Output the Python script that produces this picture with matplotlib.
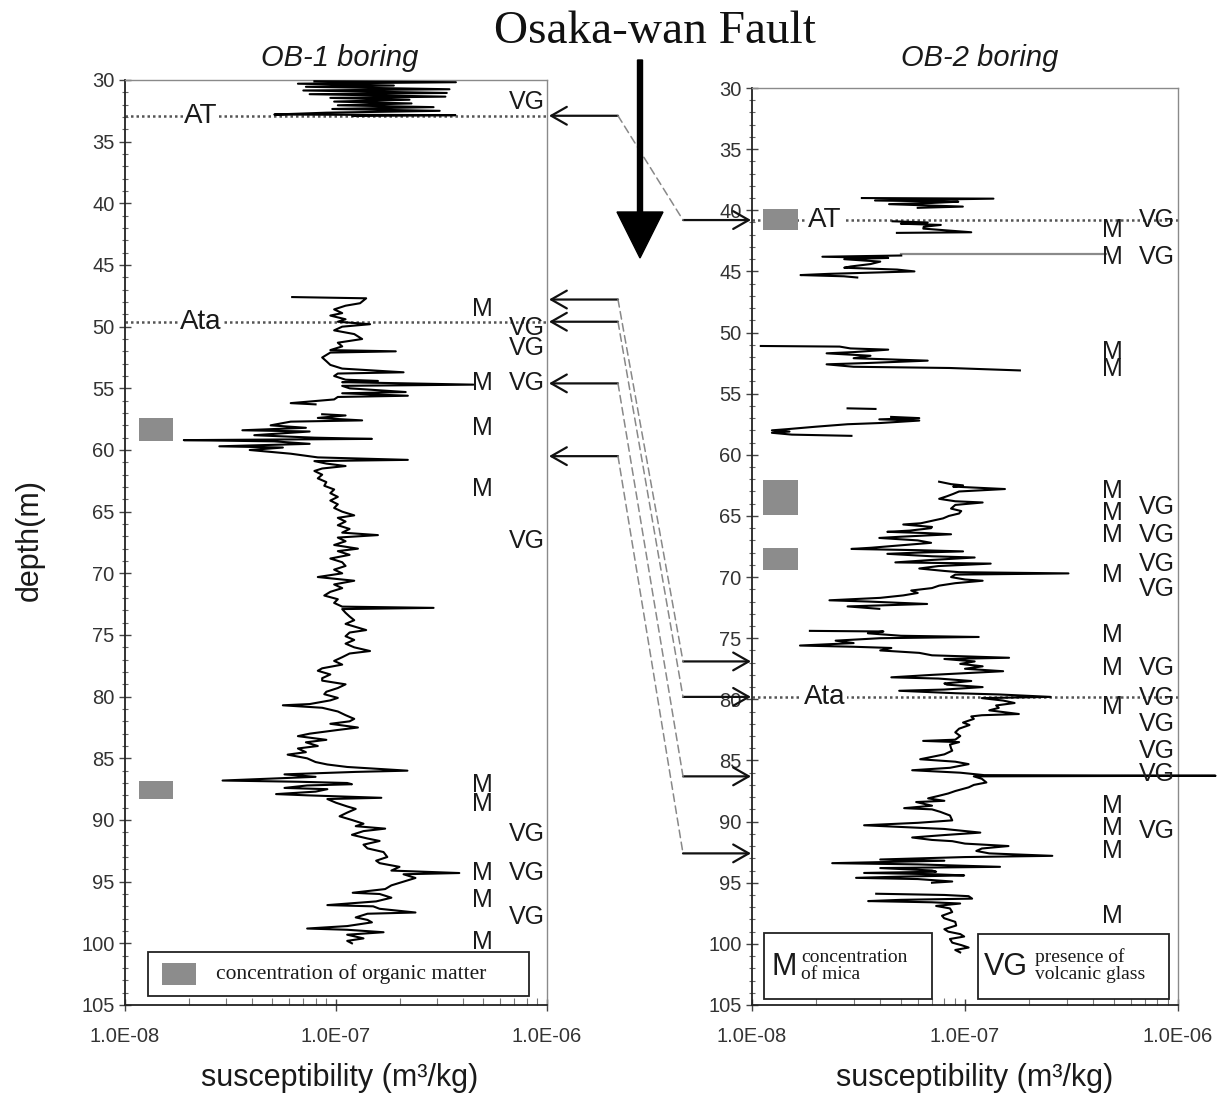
import numpy as np
import matplotlib
matplotlib.use("Agg")
import matplotlib.pyplot as plt
from matplotlib import transforms
from matplotlib.patches import Rectangle, FancyArrow, FancyArrowPatch, ConnectionPatch
from matplotlib.ticker import MultipleLocator, LogLocator, FixedLocator, FixedFormatter, NullFormatter

SANS = ["Liberation Sans", "DejaVu Sans"]
SERIF = ["Liberation Serif", "DejaVu Serif"]
plt.rcParams['font.family'] = SANS

nan = np.nan
# ---------------- data (susceptibility in units of 1e-8 m3/kg) ----------------
ob1_depth = [30.10, 30.18, 30.30, 30.45, 30.55, 30.75, 30.85, 31.05, 31.15, 31.35, 31.45, 31.60,
             31.75, 31.90, 32.05, 32.20, 32.35, 32.50, 32.65, 32.80, 32.85, 32.92, nan,
             47.6, 47.7, 48.1, 48.3, 48.6, 48.9, 49.1, 49.4, 49.6, 49.8, 50.0, 50.3, 50.6, 51.0,
             51.3, 51.6, 51.9, 52.0, 52.1, 52.5, 52.8, 53.1, 53.4, 53.7, 53.8, 54.0, 54.3, 54.4,
             54.5, 54.7, 54.8, 55.0, 55.3, 55.4, 55.6, 55.7, 55.9, 56.2, 56.3, nan,
             57.1, 57.2, 57.4, 57.6, 57.7, 58.0, 58.2, 58.4, 58.5, 58.8, 59.0, 59.1, 59.2, 59.3,
             59.5, 59.7, 59.8, 60.0, 60.3, 60.6, 60.8, 60.9, 61.1, 61.3, 61.5, 61.7, 62.0, 62.3,
             62.6, 62.9, 63.2, 63.5, 63.8, 64.1, 64.4, 64.7, 65.0, 65.3, 65.5, 65.8, 66.1, 66.4,
             66.7, 66.9, 67.1, 67.4, 67.7, 68.0, 68.2, 68.5, 68.8, 69.1, 69.4, 69.7, 70.0, 70.3,
             70.6, 70.9, 71.2, 71.5, 71.8, 72.1, 72.4, 72.7, 72.8, 72.9, 73.2, 73.5, 73.8, 74.1,
             74.4, 74.6, 74.8, 75.1, 75.4, 75.7, 76.0, 76.3, 76.5, 76.8, 77.1, 77.4, 77.7, 77.9,
             78.2, 78.5, 78.7, 79.0, 79.3, 79.6, 79.8, 80.1, 80.3, 80.6, 80.7, 80.9, 81.2, 81.5,
             81.8, 82.0, 82.2, 82.5, 82.7, 83.0, 83.2, 83.5, 83.7, 84.0, 84.2, 84.5, 84.7, 85.0,
             85.3, 85.5, 85.7, 86.0, 86.1, 86.3, 86.5, 86.8, 86.9, 87.0, 87.1, 87.2, 87.4, 87.5,
             87.7, 87.9, 88.0, 88.2, 88.3, 88.6, 88.9, 89.1, 89.4, 89.7, 90.0, 90.3, 90.5, 90.7,
             90.9, 91.2, 91.5, 91.7, 92.0, 92.3, 92.6, 93.0, 93.3, 93.5, 93.8, 94.1, 94.3, 94.4,
             94.7, 95.0, 95.3, 95.6, 95.9, 96.0, 96.3, 96.6, 96.9, 97.0, 97.2, 97.5, 97.6, 97.9,
             98.1, 98.3, 98.6, 98.8, 98.9, 99.1, 99.3, 99.6, 99.8, 100.0]
ob1_chi = [7.9, 37.0, 6.6, 18.8, 7.2, 34.5, 7.0, 33.5, 7.5, 33.0, 9.4, 22.3,
           9.8, 22.8, 10.2, 29.0, 9.6, 31.0, 9.0, 5.1, 36.8, 12.0, nan,
           6.2, 13.9, 13.0, 11.1, 9.8, 10.7, 9.4, 11.1, 10.2, 14.5, 10.7, 9.8, 12.2, 13.3,
           10.2, 10.7, 9.4, 19.2, 9.4, 8.6, 9.0, 9.4, 10.7, 20.9, 10.2, 9.8, 11.1, 15.8,
           10.7, 44.8, 10.7, 11.6, 21.4, 10.7, 21.9, 10.2, 9.8, 6.1, 8.0, nan,
           8.6, 11.1, 8.2, 13.3, 6.1, 4.9, 7.2, 3.6, 7.5, 4.1, 7.9, 14.8, 1.9, 5.1,
           7.5, 2.8, 5.6, 3.9, 6.1, 8.2, 21.9, 7.9, 9.0, 11.1, 8.6, 7.9, 8.6, 8.2,
           9.0, 8.8, 9.8, 9.4, 10.2, 9.4, 10.2, 9.8, 10.7, 12.2, 10.2, 11.1, 10.2, 11.6,
           10.7, 15.8, 10.2, 11.1, 9.8, 12.7, 10.2, 11.6, 9.4, 10.7, 11.1, 9.8, 10.7, 8.2,
           12.2, 9.8, 10.7, 9.4, 8.8, 10.2, 9.8, 10.7, 29.0, 10.7, 11.1, 11.6, 12.2, 11.1,
           12.7, 13.9, 11.6, 11.1, 12.2, 11.1, 12.2, 14.5, 11.6, 10.7, 9.8, 10.7, 8.6, 8.2,
           9.4, 8.6, 8.6, 11.1, 10.2, 9.0, 8.8, 10.2, 9.4, 7.5, 5.6, 8.6, 10.2, 11.1,
           12.2, 11.6, 9.4, 12.7, 10.2, 7.5, 6.6, 9.0, 7.2, 8.2, 6.6, 7.2, 5.9, 7.3,
           8.0, 9.1, 11.3, 21.8, 12.4, 5.7, 8.0, 2.9, 6.7, 11.3, 11.9, 7.3, 5.7, 9.1,
           8.0, 5.2, 7.3, 16.4, 9.1, 10.0, 11.3, 12.4, 11.3, 10.4, 11.9, 13.5, 12.4, 17.1,
           13.5, 11.9, 14.1, 16.1, 13.5, 14.1, 16.8, 17.5, 15.5, 16.1, 20.0, 18.3, 38.4, 20.9,
           23.8, 20.9, 18.3, 17.1, 12.0, 16.1, 18.3, 15.5, 9.1, 15.0, 16.1, 23.8, 14.1, 12.4,
           14.1, 14.8, 11.3, 7.3, 11.3, 16.8, 11.3, 13.5, 11.3, 11.9]

ob2_depth = [39.0, 39.05, 39.2, 39.3, 39.4, 39.5, 39.7, 39.8, nan,
             40.9, 41.0, 41.1, 41.2, 41.35, 41.5, 41.8, 41.85, nan,
             43.7, 43.8, 43.9, 44.0, 44.2, 44.4, 44.6, 44.7, 44.85, 45.0, 45.2, 45.3, 45.4, 45.5, nan,
             51.1, 51.15, 51.3, 51.4, 51.6, 51.7, 51.9, 52.1, 52.3, 52.5, 52.6, 52.8, 52.9, 53.1, nan,
             56.2, 56.25, nan,
             56.9, 57.0, 57.1, 57.2, 57.4, 57.5, 57.7, 57.9, 58.0, 58.1, 58.2, 58.35, 58.45, nan,
             62.2, 62.4, 62.5, 62.6, 62.8, 63.0, 63.2, 63.4, 63.6, 63.8, 63.9, 64.1, 64.4, 64.6,
             64.8, 65.0, 65.2, 65.4, 65.6, 65.7, 65.9, 66.0, 66.2, 66.3, 66.4, 66.5, 66.7, 66.8,
             67.0, 67.2, 67.4, 67.6, 67.7, 67.8, 67.9, 68.0, 68.1, 68.3, 68.4, 68.6, 68.8, 68.9,
             69.1, 69.3, 69.5, 69.6, 69.7, 69.8, 70.0, 70.2, 70.3, 70.5, 70.7, 70.9, 71.1, 71.3,
             71.5, 71.7, 71.9, 72.0, 72.2, 72.4, 72.6, nan,
             74.4, 74.45, 74.6, 74.8, 74.9, 75.0, 75.2, 75.4, 75.6, 75.7, 75.8, 76.0, 76.2, 76.4,
             76.6, 76.7, 76.9, 77.1, 77.3, 77.5, 77.7, 77.9, 78.0, 78.2, 78.3, 78.5, 78.7, 78.8,
             79.0, 79.2, 79.3, 79.5, 79.6, 79.8, 79.9, 80.1, 80.3, 80.5, 80.7, 80.9, 81.2, 81.3,
             81.4, 81.6, 81.9, 82.1, 82.4, 82.7, 83.0, 83.3, 83.4, 83.5, 83.7, 84.0, 84.2, 84.5,
             84.9, 85.1, 85.3, 85.6, 85.8, 86.0, 86.2, 86.25, 86.3, 86.5, 86.8, 87.0, 87.2, 87.5,
             87.7, 87.9, 88.1, 88.3, 88.4, 88.7, 88.9, 89.0, 89.2, 89.5, 89.9, 90.1, 90.3, 90.5,
             90.6, 90.9, 91.1, 91.3, 91.5, 91.6, 91.8, 92.0, 92.2, 92.4, 92.6, 92.8, 92.9, 93.1,
             93.2, 93.4, 93.5, 93.7, 93.8, 94.0, 94.1, 94.2, 94.3, 94.4, 94.5, 94.6, 94.7, 94.9,
             95.0, nan,
             95.9, 96.0, 96.1, 96.3, 96.4, 96.5, 96.6, 96.7, 96.9, 97.1, 97.4, 97.7, 97.9, 98.2,
             98.5, 98.8, 99.0, 99.2, 99.4, 99.6, 99.9, 100.1, 100.3, 100.5, 100.7]
ob2_chi = [3.28, 13.6, 3.78, 9.3, 7.0, 4.4, 9.77, 6.0, nan,
           4.57, 6.68, 5.0, 7.7, 6.4, 6.37, 10.7, 4.79, nan,
           5.02, 2.14, 4.36, 2.71, 4.0, 3.6, 2.9, 2.71, 4.8, 5.79, 2.3, 1.69, 2.7, 3.12, nan,
           1.10, 2.58, 2.9, 4.36, 3.0, 2.24, 3.6, 3.0, 6.68, 3.4, 2.24, 3.0, 8.47, 18.1, nan,
           2.81, 3.80, nan,
           4.5, 6.10, 3.96, 6.1, 4.0, 2.81, 2.0, 1.47, 1.24, 1.5, 1.24, 1.54, 2.93, nan,
           7.56, 8.6, 9.79, 8.8, 15.4, 9.38, 8.8, 8.2, 7.56, 9.0, 12.1, 9.0, 8.60, 9.6,
           9.38, 8.4, 7.89, 7.0, 6.2, 5.13, 7.0, 6.93, 5.5, 4.32, 6.5, 8.60, 5.0, 3.96,
           6.0, 6.93, 5.0, 3.64, 2.93, 6.0, 9.79, 6.0, 4.32, 7.0, 11.1, 7.0, 4.71, 13.2,
           7.5, 6.10, 8.0, 9.38, 30.6, 9.0, 8.60, 10.0, 12.1, 9.0, 7.56, 7.0, 5.59, 6.0,
           5.13, 4.0, 2.31, 3.5, 6.64, 2.81, 3.96, nan,
           1.87, 4.14, 3.5, 5.0, 11.6, 4.0, 2.47, 3.0, 1.68, 3.0, 4.51, 4.0, 6.10, 7.0,
           16.1, 8.0, 11.1, 9.5, 12.1, 10.0, 15.1, 9.0, 7.0, 4.51, 7.5, 10.7, 8.0, 8.24,
           12.1, 8.0, 4.91, 9.0, 14.4, 25.2, 12.0, 15.1, 17.1, 14.0, 14.4, 13.0, 17.9, 12.0,
           10.7, 11.0, 9.79, 10.5, 9.38, 9.0, 9.5, 9.0, 6.36, 9.38, 8.5, 8.60, 8.71, 8.0,
           6.16, 9.0, 10.4, 8.5, 5.65, 9.5, 12.3, 150.0, 11.0, 12.0, 12.6, 11.0, 10.4, 9.0,
           8.34, 7.5, 6.71, 8.0, 5.90, 7.0, 5.18, 7.0, 7.65, 8.5, 8.71, 6.0, 3.36, 6.0,
           7.98, 11.8, 8.0, 5.65, 7.0, 8.71, 10.0, 16.0, 12.0, 11.3, 13.0, 25.7, 10.0, 4.0,
           8.0, 2.38, 6.0, 14.6, 4.0, 7.0, 7.32, 3.36, 7.0, 9.91, 5.0, 3.08, 6.0, 8.71,
           7.0, nan,
           3.83, 8.0, 10.4, 10.8, 5.0, 3.51, 7.0, 9.49, 7.32, 8.5, 8.71, 7.8, 7.98, 9.0,
           9.09, 8.0, 8.34, 9.5, 9.91, 8.5, 8.71, 9.6, 10.4, 9.0, 9.49]

# organic-matter intervals (top, bottom depth)
ob1_organic = [(57.4, 59.3), (86.8, 88.3)]
ob2_organic = [(39.9, 41.6), (62.1, 64.9), (67.6, 69.4)]
# tephra markers
ob1_tephra = [("AT", 32.9), ("Ata", 49.6)]
ob2_tephra = [("AT", 40.8), ("Ata", 79.8)]
# mica (M) and volcanic glass (VG) marks
ob1_mica = [48.6, 54.6, 58.2, 63.2, 87.2, 88.7, 94.3, 96.5, 99.9]
ob1_vg = [31.8, 50.1, 51.7, 54.6, 67.4, 91.1, 94.3, 97.9]
ob2_mica = [41.6, 43.8, 51.6, 53.0, 63.0, 64.8, 66.6, 69.8, 74.7, 77.4, 80.6, 88.7, 90.5, 92.4, 97.7]
ob2_vg = [40.8, 43.8, 64.3, 66.6, 68.9, 71.0, 77.4, 79.9, 82.0, 84.2, 86.1, 90.8]
ob2_glass_line = 43.6
# correlation OB-1 depth -> OB-2 depth
corr_ob1 = [32.9, 47.8, 49.6, 54.6, 60.5]
corr_ob2 = [40.8, 76.9, 79.8, 86.3, 92.6]

xticks = [1e-8, 1e-7, 1e-6]
xticklabels = ["1.0E-08", "1.0E-07", "1.0E-06"]
yticks = list(range(30, 106, 5))

# ---------------- figure ----------------
W, H = 1227, 1100
fig = plt.figure(figsize=(W / 100, H / 100), dpi=100)
ax1 = fig.add_axes([125 / W, 95 / H, 422 / W, 925 / H])
ax2 = fig.add_axes([752 / W, 95 / H, 426 / W, 917 / H])

TXT = '#1a1a1a'
for ax in (ax1, ax2):
    ax.set_xscale('log')
    ax.set_xlim(1e-8, 1e-6)
    ax.set_ylim(105, 30)
    ax.xaxis.set_major_locator(FixedLocator(xticks))
    ax.xaxis.set_major_formatter(FixedFormatter(xticklabels))
    ax.xaxis.set_minor_locator(LogLocator(base=10, subs=np.arange(2, 10)))
    ax.xaxis.set_minor_formatter(NullFormatter())
    ax.yaxis.set_major_locator(FixedLocator(yticks))
    ax.yaxis.set_minor_locator(MultipleLocator(1))
    ax.tick_params(axis='y', which='major', direction='inout', length=9, width=1.0, color='#444',
                   labelsize=14.5, labelcolor='#333', pad=3)
    ax.tick_params(axis='y', which='minor', direction='inout', length=5, width=0.8, color='#666')
    ax.tick_params(axis='x', which='major', direction='inout', length=8, width=1.0, color='#444',
                   labelsize=14.5, labelcolor='#333', pad=12)
    ax.tick_params(axis='x', which='minor', direction='in', length=5, width=0.8, color='#777')
    for s in ('left', 'bottom'):
        ax.spines[s].set_color('#222')
        ax.spines[s].set_linewidth(1.3)
    for s in ('top', 'right'):
        ax.spines[s].set_color('#8a8a8a')
        ax.spines[s].set_linewidth(1.0)

ax1.plot(np.array(ob1_chi) * 1e-8, ob1_depth, color='black', lw=1.5, zorder=3)
ax2.plot(np.array(ob2_chi) * 1e-8, ob2_depth, color='black', lw=1.5, zorder=3, clip_on=False)

tr1 = ax1.get_yaxis_transform()
tr2 = ax2.get_yaxis_transform()

GRAY = '#8c8c8c'
for top, bot in ob1_organic:
    ax1.add_patch(Rectangle((0.033, top), 0.081, bot - top, transform=tr1, facecolor=GRAY,
                            edgecolor='none', zorder=4))
for top, bot in ob2_organic:
    ax2.add_patch(Rectangle((0.025, top), 0.083, bot - top, transform=tr2, facecolor=GRAY,
                            edgecolor='none', zorder=4))

# tephra lines
for name, d in ob1_tephra:
    ax1.plot([0, 1], [d, d], transform=tr1, color='#555', lw=1.8, ls=(0, (1, 1.2)), zorder=2)
    ax1.text(0.18, d, name, transform=tr1, ha='center', va='center', fontsize=20, color=TXT,
             bbox=dict(facecolor='white', edgecolor='none', pad=1), zorder=4)
for name, d in ob2_tephra:
    ax2.plot([0, 1], [d, d], transform=tr2, color='#555', lw=1.8, ls=(0, (1, 1.2)), zorder=2)
    ax2.text(0.17, d, name, transform=tr2, ha='center', va='center', fontsize=20, color=TXT,
             bbox=dict(facecolor='white', edgecolor='none', pad=1), zorder=4)
ax2.plot([0.35, 0.83], [ob2_glass_line, ob2_glass_line], transform=tr2, color='#8a8a8a', lw=1.6, zorder=2)

# M / VG marks
for d in ob1_mica:
    ax1.text(0.848, d, "M", transform=tr1, ha='center', va='center', fontsize=18, color=TXT, zorder=4)
for d in ob1_vg:
    ax1.text(0.995, d, "VG", transform=tr1, ha='right', va='center', fontsize=18, color=TXT, zorder=4)
for d in ob2_mica:
    ax2.text(0.847, d, "M", transform=tr2, ha='center', va='center', fontsize=18, color=TXT, zorder=4)
for d in ob2_vg:
    ax2.text(0.993, d, "VG", transform=tr2, ha='right', va='center', fontsize=18, color=TXT, zorder=4)

# legend boxes
ax1.add_patch(Rectangle((0.055, 100.7), 0.902, 3.6, transform=tr1, facecolor='white',
                        edgecolor='#222', lw=1.3, zorder=6))
ax1.add_patch(Rectangle((0.088, 101.6), 0.08, 1.8, transform=tr1, facecolor=GRAY,
                        edgecolor='none', zorder=7))
ax1.text(0.215, 102.5, "concentration of organic matter", transform=tr1, ha='left', va='center',
         fontsize=15.5, family=SERIF, color=TXT, zorder=7)

ax2.add_patch(Rectangle((0.028, 99.1), 0.395, 5.4, transform=tr2, facecolor='white',
                        edgecolor='#222', lw=1.3, zorder=6))
ax2.text(0.045, 101.9, "M", transform=tr2, ha='left', va='center', fontsize=22, color=TXT, zorder=7)
ax2.text(0.115, 101.8, "concentration\nof mica", transform=tr2, ha='left', va='center',
         fontsize=14, family=SERIF, linespacing=1.0, color=TXT, zorder=7)
ax2.add_patch(Rectangle((0.53, 99.2), 0.45, 5.3, transform=tr2, facecolor='white',
                        edgecolor='#222', lw=1.3, zorder=6))
ax2.text(0.545, 101.9, "VG", transform=tr2, ha='left', va='center', fontsize=22, color=TXT, zorder=7)
ax2.text(0.665, 101.8, "presence of\nvolcanic glass", transform=tr2, ha='left', va='center',
         fontsize=14, family=SERIF, linespacing=1.0, color=TXT, zorder=7)

# correlation arrows
b1 = transforms.blended_transform_factory(fig.transFigure, ax1.transData)
b2 = transforms.blended_transform_factory(fig.transFigure, ax2.transData)
xl_tail, xl_head = 618 / W, 549 / W
xr_tail, xr_head = 683 / W, 751 / W
astyle = '->,head_length=0.7,head_width=0.4'
for dL, dR in zip(corr_ob1, corr_ob2):
    fig.add_artist(FancyArrowPatch((xl_tail, dL), (xl_head, dL), transform=b1, arrowstyle=astyle,
                                   mutation_scale=16, lw=1.6, color='#111', shrinkA=0, shrinkB=0))
    fig.add_artist(FancyArrowPatch((xr_tail, dR), (xr_head, dR), transform=b2, arrowstyle=astyle,
                                   mutation_scale=16, lw=1.6, color='#111', shrinkA=0, shrinkB=0))
    fig.add_artist(ConnectionPatch(xyA=(xl_tail, dL), coordsA=b1, xyB=(xr_tail, dR), coordsB=b2,
                                   color='#888', lw=1.1, ls=(0, (5, 3))))

# fault arrow
fig.add_artist(FancyArrow(640 / W, 1 - 60 / H, 0, -(258 - 60) / H, width=5 / W, head_width=46 / W,
                          head_length=46 / H, length_includes_head=True, transform=fig.transFigure,
                          color='black'))
fig.text(655 / W, 1 - 32 / H, "Osaka-wan Fault", ha='center', va='center', fontsize=34,
         family=SERIF, color='#111')

# titles and labels
fig.text(340 / W, 1 - 58 / H, "OB-1 boring", ha='center', va='center', fontsize=21, style='italic', color=TXT)
fig.text(980 / W, 1 - 58 / H, "OB-2 boring", ha='center', va='center', fontsize=21, style='italic', color=TXT)
fig.text(30 / W, 1 - 540 / H, "depth(m)", ha='center', va='center', rotation=90, fontsize=22, color=TXT)
fig.text(340 / W, 1 - 1078 / H, "susceptibility (m\u00b3/kg)", ha='center', va='center', fontsize=22, color=TXT)
fig.text(975 / W, 1 - 1078 / H, "susceptibility (m\u00b3/kg)", ha='center', va='center', fontsize=22, color=TXT)

fig.savefig("out.png", dpi=100, facecolor='white')
